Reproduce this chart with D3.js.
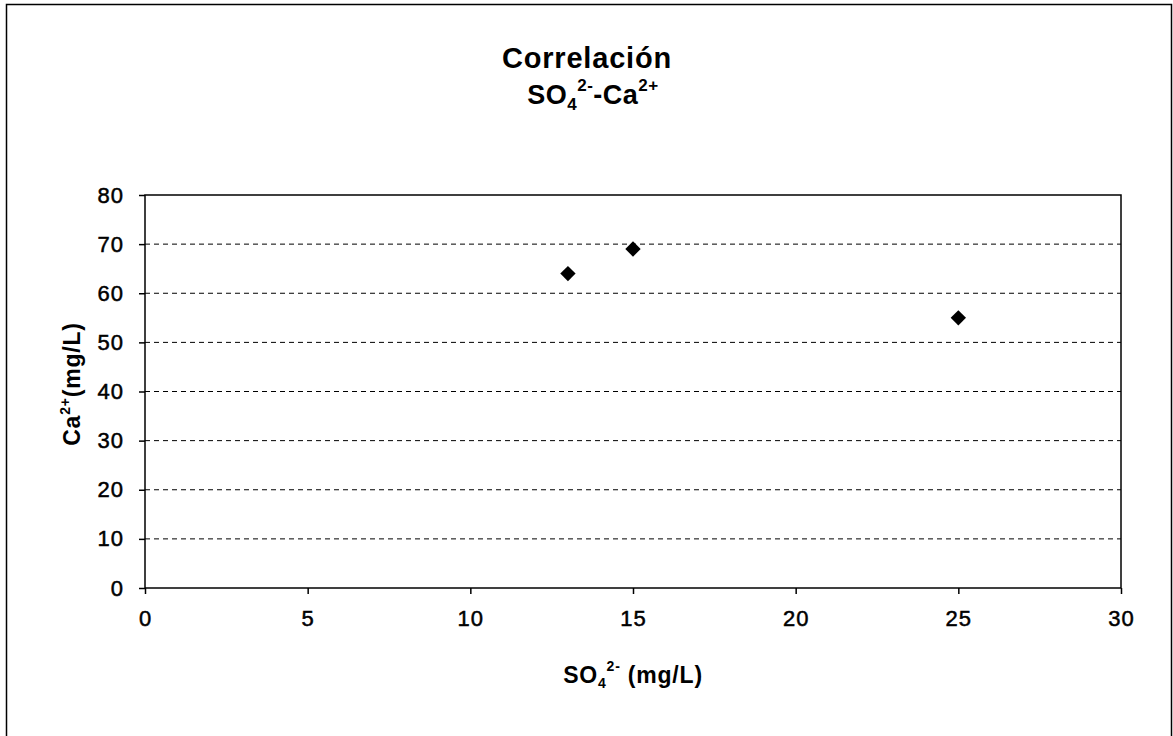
<!DOCTYPE html>
<html><head><meta charset="utf-8">
<script src="https://cdn.jsdelivr.net/npm/d3@7"></script>
<style>body{margin:0;background:#fff;}svg{display:block;font-family:"Liberation Sans",Arial,sans-serif;}</style>
</head><body>
<svg id="c" width="1173" height="736"></svg>
<script>
const so4 = [13, 15, 25];
const ca = [64, 69, 55];
const xTicks = [0, 5, 10, 15, 20, 25, 30];
const yTicks = [0, 10, 20, 30, 40, 50, 60, 70, 80];

const svg = d3.select("#c");
const m = {l: 145, r: 1121, t: 195, b: 588};
const x = d3.scaleLinear().domain([0, 30]).range([m.l, m.r]);
const y = d3.scaleLinear().domain([0, 80]).range([m.b, m.t]);

// outer frame
svg.append("path").attr("d", "M6.5,736 V4.5 H1171.5 V736").attr("fill", "none").attr("stroke", "#000").attr("stroke-width", 1.5);

// gridlines
svg.append("g").selectAll("line").data(yTicks.filter(d => d > 0 && d < 80)).join("line")
  .attr("x1", m.l).attr("x2", m.r).attr("y1", d => y(d)).attr("y2", d => y(d))
  .attr("stroke", "#000").attr("stroke-width", 1).attr("stroke-dasharray", "5,4");

// plot frame
svg.append("rect").attr("x", m.l).attr("y", m.t).attr("width", m.r - m.l).attr("height", m.b - m.t)
  .attr("fill", "none").attr("stroke", "#000").attr("stroke-width", 1.5);

const xAxis = svg.append("g").attr("transform", `translate(0,${m.b})`)
  .call(d3.axisBottom(x).tickValues(xTicks).tickSize(6).tickPadding(16).tickFormat(d3.format("d")));
const yAxis = svg.append("g").attr("transform", `translate(${m.l},0)`)
  .call(d3.axisLeft(y).tickValues(yTicks).tickSize(6).tickPadding(15).tickFormat(d3.format("d")));
[xAxis, yAxis].forEach(a => {
  a.select(".domain").remove();
  a.selectAll("line").attr("stroke", "#000").attr("stroke-width", 1.5);
  a.selectAll("text").attr("font-size", 22).attr("fill", "#000")
    .attr("stroke", "#000").attr("stroke-width", 0.5).attr("letter-spacing", 1)
    .attr("font-family", '"Liberation Sans",Arial,sans-serif');
});

// points
svg.append("g").selectAll("path").data(so4.map((d, i) => [d, ca[i]])).join("path")
  .attr("d", d3.symbol().type(d3.symbolDiamond2).size(150))
  .attr("transform", d => `translate(${x(d[0])},${y(d[1])})`)
  .attr("fill", "#000");

// title
svg.append("text").attr("x", 587).attr("y", 68).attr("text-anchor", "middle")
  .attr("font-size", 29).attr("font-weight", "bold").attr("letter-spacing", 0.8).text("Correlación");
const t2 = svg.append("text").attr("x", 593).attr("y", 104).attr("text-anchor", "middle")
  .attr("font-size", 27).attr("font-weight", "bold").attr("letter-spacing", 0.5);
t2.append("tspan").text("SO");
t2.append("tspan").attr("font-size", 17).attr("dy", 6).text("4");
t2.append("tspan").attr("font-size", 17).attr("dy", -19).text("2-");
t2.append("tspan").attr("dy", 13).text("-Ca");
t2.append("tspan").attr("font-size", 17).attr("dy", -13).text("2+");

// x label
const xl = svg.append("text").attr("x", 633).attr("y", 683).attr("text-anchor", "middle")
  .attr("font-size", 23).attr("font-weight", "bold").attr("letter-spacing", 0.8);
xl.append("tspan").text("SO");
xl.append("tspan").attr("font-size", 14).attr("dy", 5).text("4");
xl.append("tspan").attr("font-size", 14).attr("dy", -17).text("2-");
xl.append("tspan").attr("dy", 12).text(" (mg/L)");

// y label
const yl = svg.append("text").attr("transform", "translate(80,384) rotate(-90)").attr("text-anchor", "middle")
  .attr("font-size", 23).attr("font-weight", "bold").attr("letter-spacing", 0.8);
yl.append("tspan").text("Ca");
yl.append("tspan").attr("font-size", 14).attr("dy", -10).text("2+");
yl.append("tspan").attr("dy", 10).text("(mg/L)");
</script>
</body></html>
